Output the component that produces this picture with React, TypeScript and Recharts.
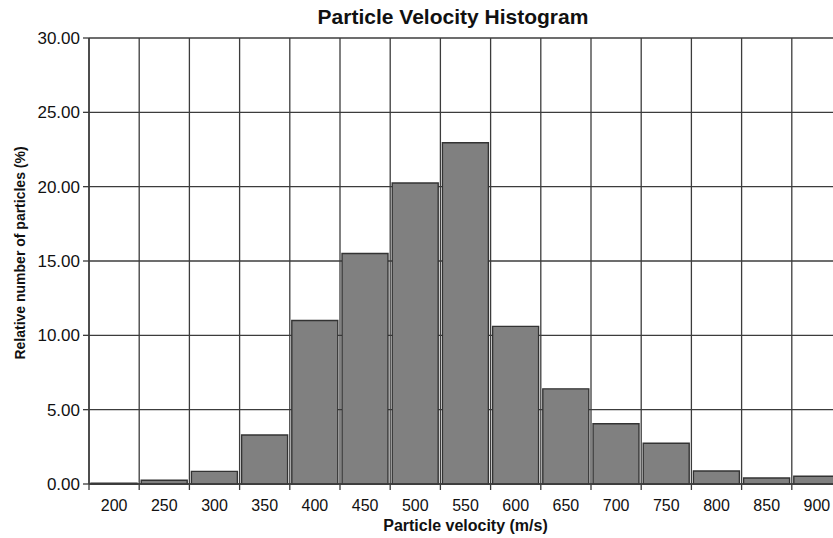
import React from 'react';
import { BarChart, Bar, XAxis, YAxis, CartesianGrid } from 'recharts';

const velocities = ['200', '250', '300', '350', '400', '450', '500', '550', '600', '650', '700', '750', '800', '850', '900'];
const percents = [0.05, 0.25, 0.85, 3.3, 11.0, 15.5, 20.25, 22.95, 10.6, 6.4, 4.05, 2.74, 0.87, 0.4, 0.52];
const yTicks = [0, 5, 10, 15, 20, 25, 30];

const data = velocities.map((v, i) => ({ v, p: percents[i] }));

const FONT = '"Liberation Sans", Arial, sans-serif';
const CHART_W = 850;
const CHART_H = 538;
const MARGIN = { top: 38, right: 8, bottom: 0, left: 0 };
const Y_W = 89;
const X_H = 54;
const PLOT_W = CHART_W - MARGIN.left - MARGIN.right - Y_W;
const BAND = PLOT_W / velocities.length;
const GRID = '#3c3c3c';

const XTick = (props: any) => {
  const { x, y, payload } = props;
  const half = payload && payload.offset ? payload.offset : BAND / 2;
  const axisY = y - 8;
  return (
    <g>
      <line x1={x - half} x2={x - half} y1={axisY} y2={axisY + 6} stroke={GRID} strokeWidth={1.3} />
      <text x={x} y={axisY + 27} textAnchor="middle" fontFamily={FONT} fontSize={16} fill="#111">
        {payload.value}
      </text>
    </g>
  );
};

const YLabel = (props: any) => {
  const vb = props.viewBox || {};
  const cx = (vb.x || 0) + 20;
  const cy = (vb.y || 0) + (vb.height || 0) / 2 - 8;
  return (
    <text
      x={cx}
      y={cy}
      transform={`rotate(-90, ${cx}, ${cy})`}
      textAnchor="middle"
      dominantBaseline="central"
      fontFamily={FONT}
      fontWeight="bold"
      fontSize={14}
      fill="#111"
    >
      Relative number of particles (%)
    </text>
  );
};

const XLabel = (props: any) => {
  const vb = props.viewBox || {};
  const cx = (vb.x || 0) + (vb.width || 0) / 2;
  const cy = (vb.y || 0) + 47;
  return (
    <text x={cx} y={cy} textAnchor="middle" fontFamily={FONT} fontWeight="bold" fontSize={16} fill="#111">
      Particle velocity (m/s)
    </text>
  );
};

export default function App() {
  return (
    <div style={{ position: 'absolute', left: 0, top: 0, width: 833, height: 538, overflow: 'hidden', background: '#fff' }}>
      <div
        style={{
          position: 'absolute',
          left: 453,
          top: 4,
          transform: 'translateX(-50%)',
          whiteSpace: 'nowrap',
          fontFamily: FONT,
          fontWeight: 'bold',
          fontSize: 21,
          color: '#111',
          lineHeight: '25px',
        }}
      >
        Particle Velocity Histogram
      </div>
      <BarChart width={CHART_W} height={CHART_H} data={data} margin={MARGIN} barCategoryGap={2}>
        <CartesianGrid
          stroke={GRID}
          strokeWidth={1.3}
          verticalCoordinatesGenerator={({ offset }: any) =>
            velocities.map((_, i) => offset.left + (i * offset.width) / velocities.length).concat([offset.left + offset.width])
          }
        />
        <XAxis
          dataKey="v"
          height={X_H}
          tickLine={false}
          axisLine={{ stroke: GRID, strokeWidth: 1.3 }}
          tick={<XTick />}
          interval={0}
          label={<XLabel />}
        />
        <YAxis
          width={Y_W}
          domain={[0, 30]}
          ticks={yTicks}
          tickFormatter={(t: number) => t.toFixed(2)}
          tickSize={6}
          tickMargin={3}
          tick={{ fontFamily: FONT, fontSize: 17, fill: '#111' }}
          tickLine={{ stroke: GRID, strokeWidth: 1.3 }}
          axisLine={{ stroke: GRID, strokeWidth: 1.5 }}
          interval={0}
          label={<YLabel />}
        />
        <Bar dataKey="p" fill="#808080" stroke="#333" strokeWidth={1.4} isAnimationActive={false} />
      </BarChart>
    </div>
  );
}
